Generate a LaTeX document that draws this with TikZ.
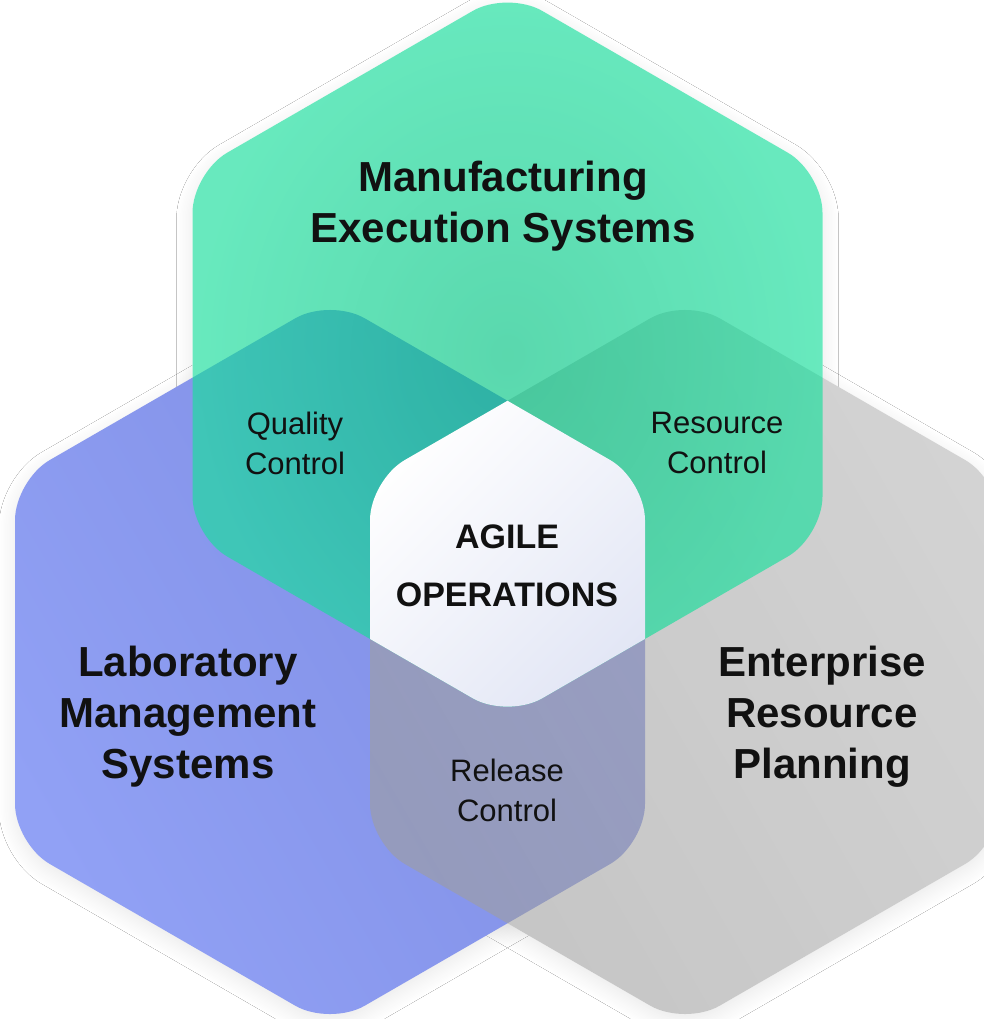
\documentclass[tikz,border=0pt]{standalone}
\usepackage{fontspec}
\setmainfont{Liberation Sans}
\usetikzlibrary{shadows.blur}
\definecolor{bluelight}{RGB}{145,161,245}
\definecolor{bluedark}{RGB}{125,139,226}
\definecolor{graylight}{RGB}{182,182,182}
\definecolor{graydark}{RGB}{158,158,158}
\definecolor{greeninner}{RGB}{5,196,132}
\definecolor{greenouter}{RGB}{26,223,157}
\definecolor{lavender}{RGB}{226,230,245}
\definecolor{ink}{RGB}{17,17,17}
\def\hexpath{(-315,0) -- (-315,-181.87) -- (0,-363.73) -- (315,-181.87) -- (315,181.87) -- (0,363.73) -- (-315,181.87) -- cycle}
\begin{document}
\begin{tikzpicture}[x=1pt,y=-1pt,
  hexshape/.style={rounded corners=40pt},
  hexshadow/.style={hexshape, blur shadow={shadow xshift=0pt, shadow yshift=-6pt, shadow blur radius=16pt, shadow blur steps=24, shadow opacity=9}},
  bigtitle/.style={font=\bfseries\fontsize{42}{51}\selectfont, align=center, text=ink},
  midtitle/.style={font=\fontsize{31}{40}\selectfont, align=center, text=ink},
  coretitle/.style={font=\bfseries\fontsize{34}{58}\selectfont, align=center, text=ink}]
\useasboundingbox (0,0) rectangle (984,1019);
\fill[white] (0,0) rectangle (984,1019);
% shadows
\path[hexshadow, shift={(330,662)}] \hexpath;
\path[hexshadow, shift={(685,662)}] \hexpath;
\path[hexshadow, shift={(507.5,354.6)}] \hexpath;
% white bases
\fill[white, hexshape, shift={(685,662)}] \hexpath;
\fill[white, hexshape, shift={(507.5,354.6)}] \hexpath;
% coloured hexagons
\shade[hexshape, shift={(330,662)}, top color=bluedark, bottom color=bluelight, shading angle=-60] \hexpath;
\shade[hexshape, shift={(685,662)}, top color=graylight, bottom color=graydark, shading angle=-60, fill opacity=0.6] \hexpath;
\shade[hexshape, shift={(507.5,354.6)}, inner color=greeninner, outer color=greenouter, fill opacity=0.66] \hexpath;
% central intersection
\begin{scope}
\clip[hexshape, shift={(330,662)}] \hexpath;
\clip[hexshape, shift={(685,662)}] \hexpath;
\clip[hexshape, shift={(507.5,354.6)}] \hexpath;
\shade[top color=white, bottom color=lavender, shading angle=45] (365,395) rectangle (650,722);
\end{scope}
% labels
\node[bigtitle] (mes) at (503,206) {Manufacturing\\Execution Systems};
\node[bigtitle] (lms) at (188,717) {Laboratory\\Management\\Systems};
\node[bigtitle] (erp) at (822,717) {Enterprise\\Resource\\Planning};
\node[midtitle] (qc) at (295,443) {Quality\\Control};
\node[midtitle] (rc) at (717,443) {Resource\\Control};
\node[midtitle] (rel) at (507,790) {Release\\Control};
\node[coretitle] (agile) at (507,566) {AGILE\\OPERATIONS};
\end{tikzpicture}
\end{document}
